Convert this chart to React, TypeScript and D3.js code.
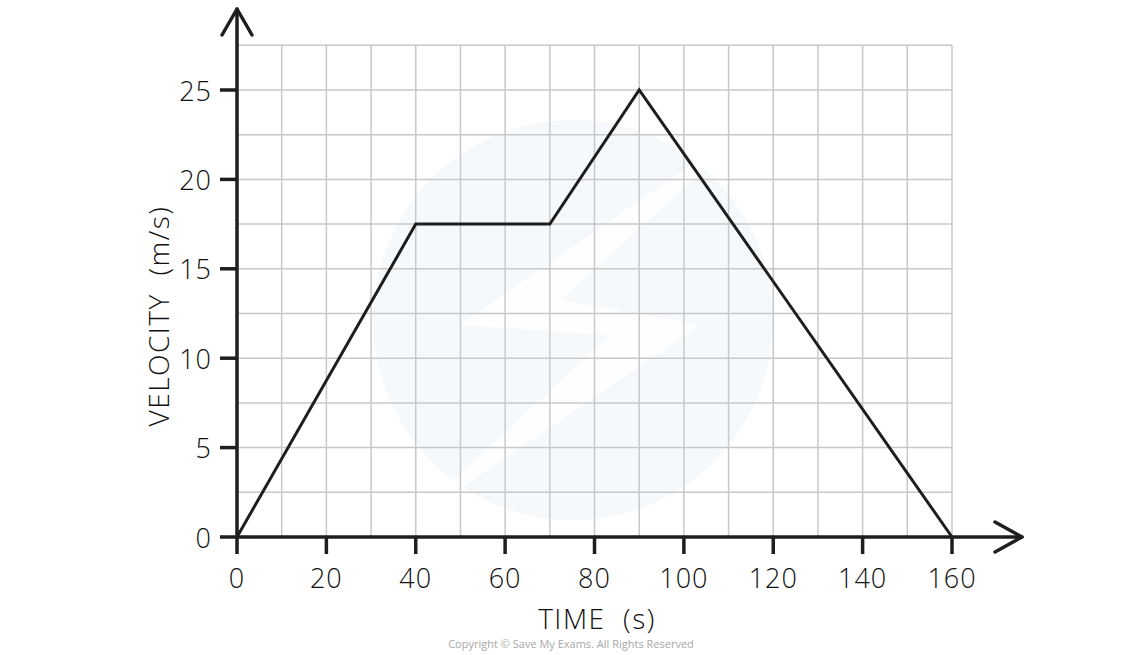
import React from "react";
import * as d3 from "d3";

const times = [0, 40, 70, 90, 160];
const velocities = [0, 17.5, 17.5, 25, 0];
const xTicks = [0, 20, 40, 60, 80, 100, 120, 140, 160];
const yTicks = [0, 5, 10, 15, 20, 25];
const xGrid = d3.range(0, 161, 10);
const yGrid = d3.range(0, 27.6, 2.5);
const xTitle = "TIME  (s)";
const yTitle = "VELOCITY  (m/s)";
const copyright = "Copyright © Save My Exams. All Rights Reserved";

const W = 1144;
const H = 655;
const FONT = "'Open Sans', 'DejaVu Sans', sans-serif";

export default function App() {
  const x = d3.scaleLinear().domain([0, 160]).range([237, 952]);
  const y = d3.scaleLinear().domain([0, 25]).range([537, 90]);
  const line = d3
    .line<number>()
    .x((_, i) => x(times[i]))
    .y((d) => y(d));
  const x0 = x(0);
  const y0 = y(0);
  const yTop = y(27.5);
  const xRight = x(160);
  const ink = "#1e1e1e";

  return (
    <svg
      width={W}
      height={H}
      style={{ position: "absolute", left: 0, top: 0, background: "#fff" }}
    >
      {/* watermark */}
      <g opacity={0.3}>
        <circle cx={573} cy={320} r={200} fill="#e3eef8" />
        <path
          d="M 400 530 L 610 335 L 460 325 L 770 110 L 560 300 L 700 325 Z"
          fill="#ffffff"
          opacity={0.9}
        />
      </g>
      {/* grid */}
      <g stroke="#c8c8c8" strokeWidth={1.5}>
        {xGrid.map((t) => (
          <line key={"gx" + t} x1={x(t)} x2={x(t)} y1={yTop} y2={y0} />
        ))}
        {yGrid.map((v) => (
          <line key={"gy" + v} x1={x0} x2={xRight} y1={y(v)} y2={y(v)} />
        ))}
      </g>
      {/* axes */}
      <g stroke={ink} strokeWidth={3.5} fill="none" strokeLinecap="round" strokeLinejoin="round">
        <line x1={x0} x2={x0} y1={y0} y2={9} />
        <polyline points={`${x0 - 15},35 ${x0},9 ${x0 + 15},35`} />
        <line x1={x0} x2={1022} y1={y0} y2={y0} />
        <polyline points={`995,522 1022,${y0} 995,552`} />
        {xTicks.map((t) => (
          <line key={"tx" + t} x1={x(t)} x2={x(t)} y1={y0} y2={y0 + 17} strokeLinecap="butt" />
        ))}
        {yTicks.map((v) => (
          <line key={"ty" + v} x1={x0 - 17} x2={x0} y1={y(v)} y2={y(v)} strokeLinecap="butt" />
        ))}
      </g>
      {/* data line */}
      <path
        d={line(velocities) || ""}
        fill="none"
        stroke={ink}
        strokeWidth={3}
        strokeLinejoin="miter"
      />
      {/* tick labels */}
      <g fontFamily={FONT} fontWeight={300} fontSize={27} fill="#111">
        {xTicks.map((t) => (
          <text key={"lx" + t} x={x(t)} y={577} textAnchor="middle" dominantBaseline="central" letterSpacing={1}>
            {t}
          </text>
        ))}
        {yTicks.map((v) => (
          <text key={"ly" + v} x={212} y={y(v)} textAnchor="end" dominantBaseline="central" letterSpacing={1}>
            {v}
          </text>
        ))}
      </g>
      {/* titles */}
      <text
        x={597}
        y={618}
        fontFamily={FONT}
        fontWeight={300}
        fontSize={28}
        fill="#111"
        textAnchor="middle"
        dominantBaseline="central"
        letterSpacing={1.5}
        style={{ whiteSpace: "pre" }}
      >
        {xTitle}
      </text>
      <text
        transform={`translate(158,316) rotate(-90)`}
        fontFamily={FONT}
        fontWeight={300}
        fontSize={28}
        fill="#111"
        textAnchor="middle"
        dominantBaseline="central"
        letterSpacing={1.5}
        style={{ whiteSpace: "pre" }}
      >
        {yTitle}
      </text>
      <text
        x={571}
        y={643}
        fontFamily={FONT}
        fontSize={11}
        fill="#a8a8a8"
        textAnchor="middle"
        dominantBaseline="central"
      >
        {copyright}
      </text>
    </svg>
  );
}
